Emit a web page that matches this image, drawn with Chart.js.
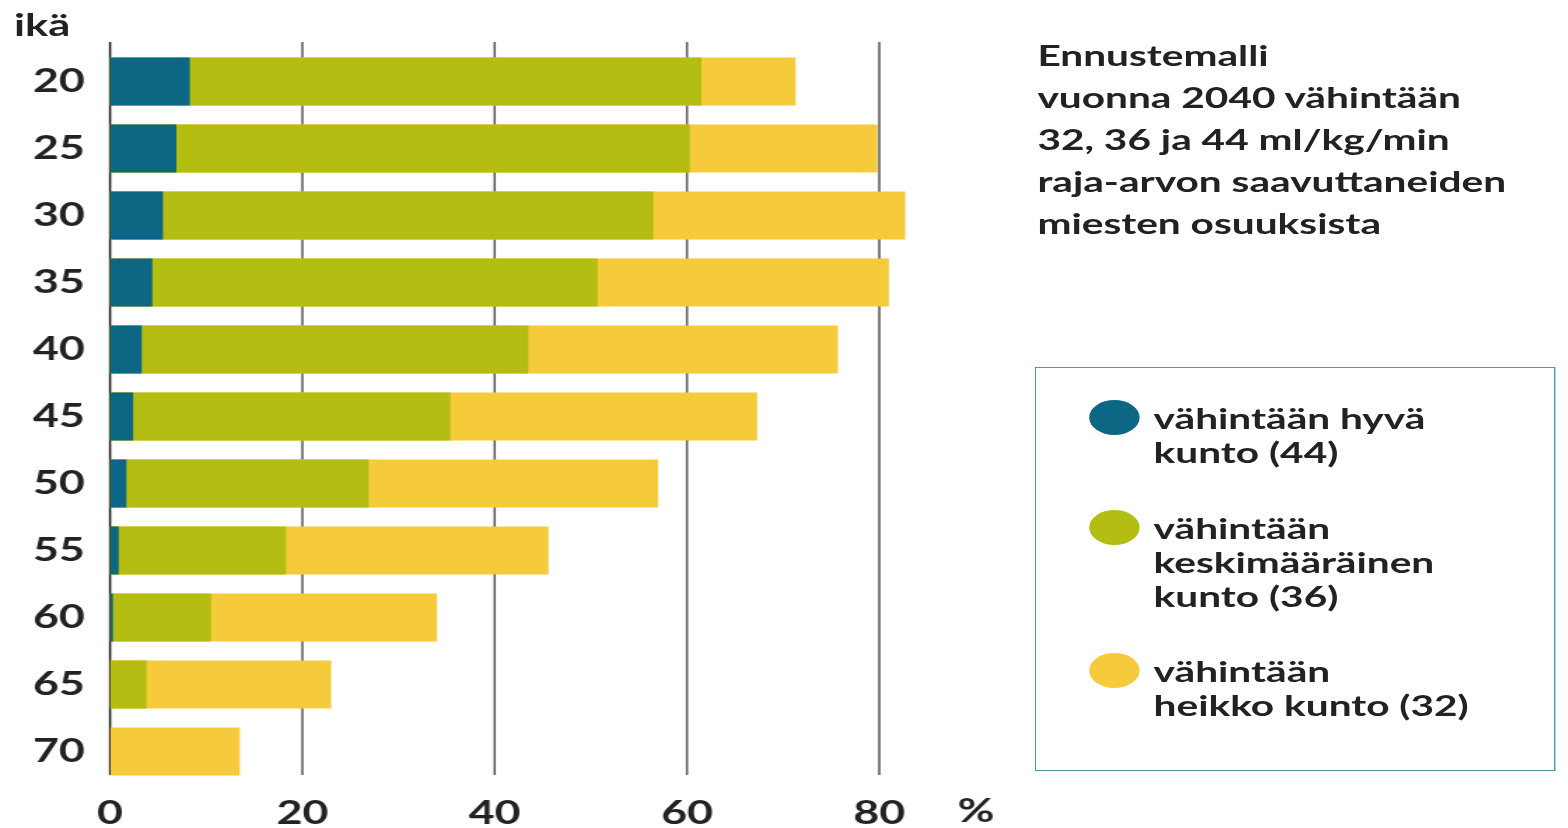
<!DOCTYPE html>
<html lang="fi">
<head>
<meta charset="utf-8">
<title>Ennustemalli 2040</title>
<script src="https://cdn.jsdelivr.net/npm/chart.js@4"></script>
<style>
  html, body { margin: 0; padding: 0; background: #fff; overflow: hidden; }
  #stage {
    position: absolute; left: 0; top: 0;
    width: 1120px; height: 828px;
    transform: scaleX(1.4); transform-origin: 0 0;
    font-family: Lato, "Open Sans", sans-serif; font-weight: 700; color: #222;
  }
  #chart { position: absolute; left: 0; top: 0; }
  #ika { position: absolute; left: 10px; top: 6px; font-size: 31px; line-height: 36px; }
  #note {
    position: absolute; left: 741px; top: 34px;
    font-size: 29px; line-height: 42px;
  }
  #legend {
    position: absolute; left: 739px; top: 367px;
    width: 372px; height: 404px;
    border: 1.5px solid #4f97a8; box-sizing: border-box;
  }
  .item { position: absolute; left: 84px; font-size: 29px; line-height: 34px; }
  .dot { position: absolute; left: -46px; top: -1px; width: 36px; height: 35px; border-radius: 50%; }
</style>
</head>
<body>
<div id="stage">
  <canvas id="chart" width="1120" height="828"></canvas>
  <div id="ika">ikä</div>
  <div id="note">Ennustemalli<br>vuonna 2040 vähintään<br>32, 36 ja 44 ml/kg/min<br>raja-arvon saavuttaneiden<br>miesten osuuksista</div>
  <div id="legend"></div>
</div>
<script>
// ikäryhmät ja kumulatiiviset osuudet (%), "vähintään" tasot
const ages = ['20', '25', '30', '35', '40', '45', '50', '55', '60', '65', '70'];
const good44 = [8.3, 6.9, 5.5, 4.4, 3.3, 2.4, 1.7, 0.9, 0.3, 0, 0];
const average36 = [61.5, 60.3, 56.5, 50.7, 43.5, 35.4, 26.9, 18.3, 10.5, 3.8, 0];
const weak32 = [71.3, 79.8, 82.7, 81.0, 75.7, 67.3, 57.0, 45.6, 34.0, 23.0, 13.5];
const xTicks = [0, 20, 40, 60, 80];

const seriesNames = [
    ['vähintään hyvä', 'kunto (44)'],
    ['vähintään', 'keskimääräinen', 'kunto (36)'],
    ['vähintään', 'heikko kunto (32)']
];
const colors = ['#0c6784', '#b4bd12', '#f5ca3b'];
const tickFont = { family: 'Lato', size: 32, weight: 'bold' };

// pystyviivat asteikon mukaan
const gridLines = {
    id: 'gridLines',
    beforeDatasetsDraw(chart) {
        const { ctx, chartArea, scales: { x } } = chart;
        ctx.save();
        x.ticks.forEach(t => {
            const px = x.getPixelForValue(t.value);
            ctx.beginPath();
            ctx.strokeStyle = t.value === 0 ? '#1a1a1a' : '#555';
            ctx.lineWidth = 1.5;
            ctx.moveTo(px, chartArea.top - 6);
            ctx.lineTo(px, chartArea.bottom - 10);
            ctx.stroke();
        });
        ctx.restore();
    },
    afterDraw(chart) {
        const { ctx, scales: { x } } = chart;
        ctx.save();
        ctx.font = 'bold 32px Lato';
        ctx.fillStyle = '#222';
        ctx.textAlign = 'center';
        ctx.textBaseline = 'middle';
        ctx.fillText('%', x.getPixelForValue(80) + 69, x.top + 27);
        ctx.restore();
    }
};

const ctx = document.getElementById('chart');
new Chart(ctx, {
    type: 'bar',
    data: {
        labels: ages,
        datasets: [
            { label: seriesNames[0].join(' '), data: good44, backgroundColor: colors[0] },
            { label: seriesNames[1].join(' '), data: average36, backgroundColor: colors[1] },
            { label: seriesNames[2].join(' '), data: weak32, backgroundColor: colors[2] }
        ]
    },
    options: {
        indexAxis: 'y',
        responsive: false,
        animation: false,
        grouped: false,
        categoryPercentage: 1,
        barPercentage: 0.72,
        layout: { padding: { top: 48, right: 437, left: 0, bottom: 0 } },
        scales: {
            x: {
                min: 0,
                max: 88,
                afterBuildTicks: (s) => { s.ticks = xTicks.map(v => ({ value: v })); },
                afterFit: (s) => { s.height = 43; },
                grid: { display: false },
                border: { display: false },
                ticks: { color: '#222', font: tickFont, padding: 1, maxRotation: 0 }
            },
            y: {
                afterFit: (s) => { s.width = 78.6; },
                grid: { display: false, drawTicks: false },
                border: { display: false },
                ticks: { color: '#222', font: tickFont, padding: 18 }
            }
        },
        plugins: {
            legend: { display: false },
            tooltip: { enabled: false }
        }
    },
    plugins: [gridLines]
});

// selite
const legendBox = document.getElementById('legend');
const itemTops = [33, 143, 286];
seriesNames.forEach((lines, i) => {
    const item = document.createElement('div');
    item.className = 'item';
    item.style.top = itemTops[i] + 'px';
    item.innerHTML = '<span class="dot" style="background:' + colors[i] + '"></span>' + lines.join('<br>');
    legendBox.appendChild(item);
});
</script>
</body>
</html>
